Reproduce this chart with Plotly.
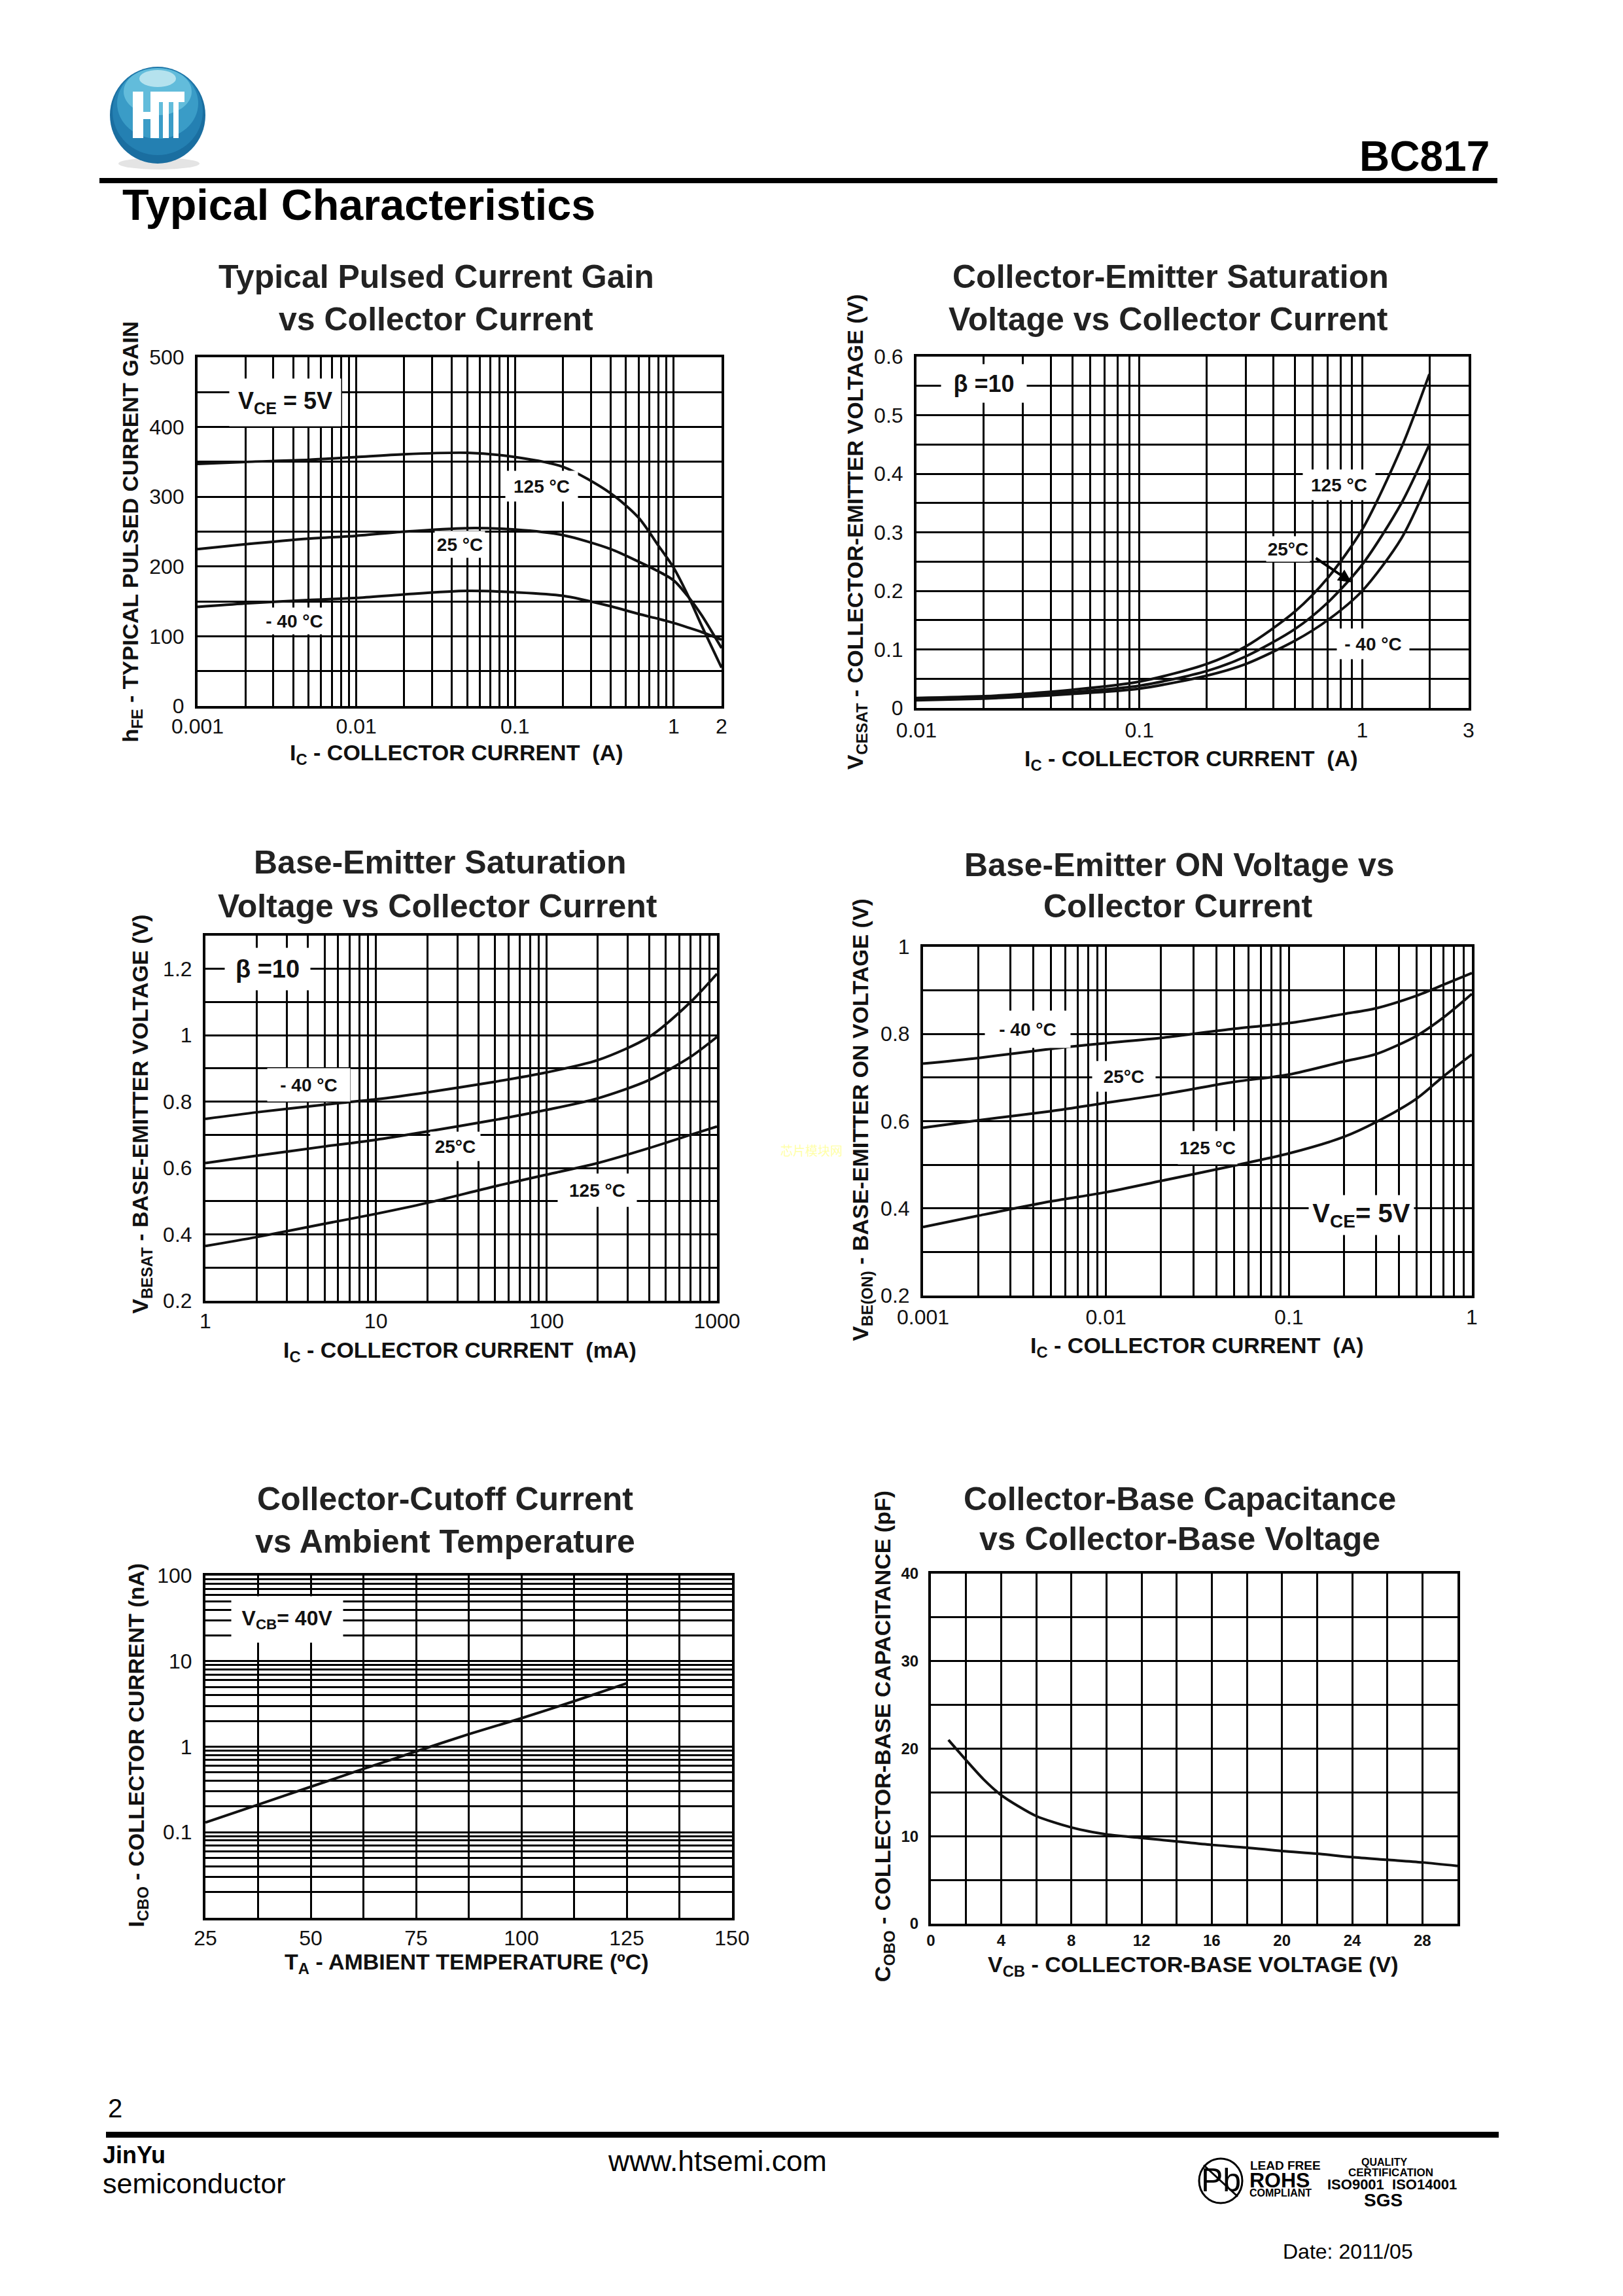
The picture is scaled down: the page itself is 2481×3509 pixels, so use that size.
import plotly.graph_objects as go

W, H = 2481, 3509
FONT = "Liberation Sans"

# ---------- data ----------
gain_ic = [0.001, 0.002, 0.005, 0.01, 0.02, 0.05, 0.1, 0.2, 0.4, 0.6, 0.8, 1, 1.25, 1.5, 2]
gain_125 = [347, 350, 353, 357, 361, 363, 357, 343, 305, 270, 230, 198, 155, 115, 55]
gain_25 = [225, 232, 240, 244, 250, 255, 253, 245, 225, 207, 193, 180, 155, 130, 83]
gain_m40 = [142, 147, 152, 155, 160, 165, 163, 158, 143, 132, 125, 119, 112, 106, 95]

cesat_ic = [0.01, 0.02, 0.03, 0.05, 0.1, 0.2, 0.3, 0.5, 0.7, 1, 1.5, 2]
cesat_125 = [0.017, 0.02, 0.024, 0.031, 0.045, 0.075, 0.105, 0.165, 0.222, 0.305, 0.445, 0.57]
cesat_25 = [0.015, 0.018, 0.021, 0.027, 0.038, 0.063, 0.088, 0.135, 0.18, 0.245, 0.35, 0.45]
cesat_m40 = [0.013, 0.016, 0.019, 0.024, 0.033, 0.055, 0.075, 0.115, 0.15, 0.2, 0.29, 0.39]

besat_ic = [1, 2, 5, 10, 20, 50, 100, 200, 400, 700, 1000]
besat_m40 = [0.748, 0.768, 0.791, 0.807, 0.828, 0.86, 0.888, 0.925, 0.995, 1.1, 1.185]
besat_25 = [0.615, 0.637, 0.665, 0.685, 0.71, 0.745, 0.775, 0.81, 0.865, 0.935, 0.995]
besat_125 = [0.365, 0.392, 0.432, 0.462, 0.495, 0.545, 0.58, 0.615, 0.66, 0.7, 0.725]

beon_ic = [0.001, 0.002, 0.005, 0.01, 0.02, 0.05, 0.1, 0.2, 0.3, 0.5, 0.7, 1]
beon_m40 = [0.732, 0.745, 0.766, 0.779, 0.791, 0.812, 0.825, 0.846, 0.859, 0.888, 0.913, 0.94]
beon_25 = [0.585, 0.602, 0.623, 0.642, 0.661, 0.69, 0.707, 0.737, 0.754, 0.796, 0.838, 0.892]
beon_125 = [0.357, 0.383, 0.416, 0.437, 0.463, 0.498, 0.526, 0.564, 0.598, 0.652, 0.703, 0.753]

cutoff_ta = [25, 37.5, 50, 62.5, 75, 87.5, 100, 112.5, 125]
cutoff_icbo = [0.13, 0.21, 0.34, 0.55, 0.88, 1.4, 2.15, 3.4, 5.5]

cap_vcb = [1, 2, 3, 4, 5, 6, 8, 10, 12, 14, 16, 18, 20, 22, 24, 26, 28, 30]
cap_cobo = [21, 18.7, 16.5, 14.7, 13.4, 12.3, 11, 10.2, 9.8, 9.4, 9.0, 8.7, 8.3, 8, 7.6, 7.3, 7, 6.6]


def log_ticks(lo_exp, hi_exp):
    vals = []
    for e in range(lo_exp, hi_exp):
        for m in range(1, 10):
            vals.append(round(m * 10.0 ** e, 8))
    vals.append(round(10.0 ** hi_exp, 8))
    return vals


gain_x_grid = log_ticks(-3, 0)
cesat_x_grid = log_ticks(-2, 0) + [2]
besat_x_grid = log_ticks(0, 3)
beon_x_grid = log_ticks(-3, 0)
cutoff_y_grid = log_ticks(-2, 2)
cutoff_x_grid = [37.5, 62.5, 87.5, 112.5, 137.5]
cap_x_grid = list(range(2, 30, 2))

panels = [
    dict(box=(302, 1103, 546, 1079), xtype="log", xr=(-3, 0.30103), xg=gain_x_grid,
         xt=[0.001, 0.01, 0.1, 1, 2], xl=["0.001", "0.01", "0.1", "1", "2"],
         yr=(0, 500), yg=list(range(0, 501, 50)), yt=list(range(0, 501, 100)),
         yl=["0", "100", "200", "300", "400", "500"], tick=32, xpad=0),
    dict(box=(1401, 2245, 545, 1082), xtype="log", xr=(-2, 0.47712), xg=cesat_x_grid,
         xt=[0.01, 0.1, 1, 3], xl=["0.01", "0.1", "1", "3"],
         yr=(0, 0.6), yg=[round(i * 0.05, 2) for i in range(13)], yt=[0, 0.1, 0.2, 0.3, 0.4, 0.5, 0.6],
         yl=["0", "0.1", "0.2", "0.3", "0.4", "0.5", "0.6"], tick=32, xpad=3),
    dict(box=(314, 1096, 1430, 1988), xtype="log", xr=(0, 3), xg=besat_x_grid,
         xt=[1, 10, 100, 1000], xl=["1", "10", "100", "1000"],
         yr=(0.2, 1.3), yg=[round(0.2 + i * 0.1, 1) for i in range(12)], yt=[0.2, 0.4, 0.6, 0.8, 1.0, 1.2],
         yl=["0.2", "0.4", "0.6", "0.8", "1", "1.2"], tick=32, xpad=0),
    dict(box=(1411, 2250, 1447, 1980), xtype="log", xr=(-3, 0), xg=beon_x_grid,
         xt=[0.001, 0.01, 0.1, 1], xl=["0.001", "0.01", "0.1", "1"],
         yr=(0.2, 1.0), yg=[round(0.2 + i * 0.1, 1) for i in range(9)], yt=[0.2, 0.4, 0.6, 0.8, 1.0],
         yl=["0.2", "0.4", "0.6", "0.8", "1"], tick=32, xpad=2),
    dict(box=(314, 1119, 2408, 2931), xtype="linear", xr=(25, 150), xg=cutoff_x_grid,
         xt=[25, 50, 75, 100, 125, 150], xl=["25", "50", "75", "100", "125", "150"],
         yr=(-2, 2), yg=cutoff_y_grid, ytype="log", yt=[0.1, 1, 10, 100], yl=["0.1", "1", "10", "100"],
         tick=32, xpad=0),
    dict(box=(1423, 2228, 2405, 2940), xtype="linear", xr=(0, 30), xg=cap_x_grid,
         xt=[0, 4, 8, 12, 16, 20, 24, 28], xl=["0", "4", "8", "12", "16", "20", "24", "28"],
         yr=(0, 40), yg=list(range(0, 41, 5)), yt=[0, 10, 20, 30, 40], yl=["0", "10", "20", "30", "40"],
         tick=24, xpad=1),
]

series = [
    (0, gain_ic, [gain_125, gain_25, gain_m40]),
    (1, cesat_ic, [cesat_125, cesat_25, cesat_m40]),
    (2, besat_ic, [besat_m40, besat_25, besat_125]),
    (3, beon_ic, [beon_m40, beon_25, beon_125]),
    (4, cutoff_ta, [cutoff_icbo]),
    (5, cap_vcb, [cap_cobo]),
]

fig = go.Figure()
layout = dict(width=W, height=H, margin=dict(l=0, r=0, t=0, b=0, pad=0, autoexpand=False), paper_bgcolor="white",
              plot_bgcolor="white", showlegend=False, autosize=False)

for i, p in enumerate(panels):
    sfx = "" if i == 0 else str(i + 1)
    x0, x1, y0, y1 = p["box"]
    common = dict(showgrid=True, gridcolor="black", gridwidth=3, showline=True, linecolor="black",
                  linewidth=4, mirror=True, zeroline=False, tickmode="array", ticks="outside", automargin=False,
                  tickcolor="rgba(0,0,0,0)", tickwidth=1,
                  tickfont=dict(family=FONT, size=p["tick"], color="#111111",
                                weight="bold" if i == 5 else "normal"))
    minor = dict(showgrid=True, gridcolor="black", gridwidth=3, ticks="", tickmode="array")
    layout["xaxis" + sfx] = dict(common, domain=[x0 / W, x1 / W], anchor="y" + sfx, type=p["xtype"],
                                 range=list(p["xr"]), tickvals=p["xt"], ticktext=p["xl"], tickangle=0,
                                 ticklen=p["xpad"], minor=dict(minor, tickvals=p["xg"]))
    layout["yaxis" + sfx] = dict(common, domain=[1 - y1 / H, 1 - y0 / H], anchor="x" + sfx,
                                 type=p.get("ytype", "linear"), range=list(p["yr"]), tickvals=p["yt"],
                                 ticktext=p["yl"], ticklen=10, minor=dict(minor, tickvals=p["yg"]))

names = {0: ["125 °C", "25 °C", "-40 °C"], 1: ["125 °C", "25 °C", "-40 °C"], 2: ["-40 °C", "25 °C", "125 °C"],
         3: ["-40 °C", "25 °C", "125 °C"], 4: ["ICBO"], 5: ["Cobo"]}
for idx, xs, ys_list in series:
    sfx = "" if idx == 0 else str(idx + 1)
    for k, ys in enumerate(ys_list):
        fig.add_trace(go.Scatter(x=xs, y=ys, mode="lines", name=names[idx][k], xaxis="x" + sfx, yaxis="y" + sfx,
                                 line=dict(color="#111111", width=4, shape="spline", smoothing=0.8),
                                 hoverinfo="skip"))


def px(x):
    return x / W


def py(y):
    return 1 - y / H


ann = []


def text(x, y, s, size, bold=False, anchor="center", angle=0, color="#111111", bg=None, pad=0, w=None, h=None, family=FONT):
    d = dict(xref="paper", yref="paper", x=px(x), y=py(y), text=s, showarrow=False, xanchor=anchor, yanchor="middle",
             textangle=angle, font=dict(family=family, size=size, color=color, weight="bold" if bold else "normal"),
             borderpad=pad)
    if bg:
        d["bgcolor"] = bg
    if w:
        d["width"] = w
    if h:
        d["height"] = h
    ann.append(d)


T = 2.2375  # reading scale -> page pixels


def t(xt, yt, s, size, **kw):
    text(xt * T, yt * T, s, size, **kw)


# page furniture
t(1018, 107, "BC817", 64, bold=True, anchor="right", color="black")
t(83, 140, "Typical Characteristics", 66.5, bold=True, anchor="left", color="black")

# chart titles
TS = 50
TC = "#222222"
t(298, 189, "Typical Pulsed Current Gain", TS, bold=True, color=TC)
t(298, 218, "vs Collector Current", TS, bold=True, color=TC)
t(800, 189, "Collector-Emitter Saturation", TS, bold=True, color=TC)
t(798, 218, "Voltage vs Collector Current", TS, bold=True, color=TC)
t(301, 589, "Base-Emitter Saturation", TS, bold=True, color=TC)
t(299, 619, "Voltage vs Collector Current", TS, bold=True, color=TC)
t(806, 591, "Base-Emitter ON Voltage vs", TS, bold=True, color=TC)
t(805, 619, "Collector Current", TS, bold=True, color=TC)
t(304, 1024, "Collector-Cutoff Current", TS, bold=True, color=TC)
t(304, 1053, "vs Ambient Temperature", TS, bold=True, color=TC)
t(806, 1024, "Collector-Base Capacitance", TS, bold=True, color=TC)
t(806, 1051, "vs Collector-Base Voltage", TS, bold=True, color=TC)

# axis titles
AS = 34
t(312, 515, "I<sub>C</sub> - COLLECTOR CURRENT  (A)", AS, bold=True)
t(814, 519, "I<sub>C</sub> - COLLECTOR CURRENT  (A)", AS, bold=True)
t(314, 923, "I<sub>C</sub> - COLLECTOR CURRENT  (mA)", AS, bold=True)
t(818, 920, "I<sub>C</sub> - COLLECTOR CURRENT  (A)", AS, bold=True)
t(319, 1341, "T<sub>A</sub> - AMBIENT TEMPERATURE (ºC)", AS, bold=True)
t(815, 1343, "V<sub>CB</sub> - COLLECTOR-BASE VOLTAGE (V)", AS, bold=True)

t(90, 363, "h<sub>FE</sub> - TYPICAL PULSED CURRENT GAIN", AS, bold=True, angle=-90)
t(585, 363, "V<sub>CESAT</sub> - COLLECTOR-EMITTER VOLTAGE (V)", AS, bold=True, angle=-90)
t(97, 761, "V<sub>BESAT</sub> - BASE-EMITTER VOLTAGE (V)", AS, bold=True, angle=-90)
t(589, 765, "V<sub>BE(ON)</sub> - BASE-EMITTER ON VOLTAGE (V)", AS, bold=True, angle=-90)
t(94, 1192, "I<sub>CBO</sub> - COLLECTOR CURRENT (nA)", AS, bold=True, angle=-90)
t(604, 1186, "C<sub>OBO</sub> - COLLECTOR-BASE CAPACITANCE (pF)", AS, bold=True, angle=-90)

# in-plot labels
for xt, yt, s, bw, bh, ls in [
    (195, 275, "V<sub>CE</sub> = 5V", 170, 72, 36), (370, 332, "125 °C", 110, 46, 28), (314, 372, "25 °C", 76, 40, 28),
    (201, 424, "- 40 °C", 110, 40, 28),
    (672, 262, "β =10", 130, 58, 36), (915, 331, "125 °C", 110, 46, 28), (880, 375, "25°C", 66, 38, 28), (938, 440, "- 40 °C", 110, 46, 28),
    (183, 662, "β =10", 130, 64, 38), (211, 741, "- 40 °C", 126, 50, 28), (311, 783, "25°C", 76, 44, 28), (408, 813, "125 °C", 120, 50, 28),
    (702, 703, "- 40 °C", 130, 56, 28), (768, 735, "25°C", 96, 46, 28), (825, 784, "125 °C", 90, 50, 28), (930, 830, "V<sub>CE</sub>= 5V", 160, 60, 40),
    (196, 1106, "V<sub>CB</sub>= 40V", 170, 70, 32),
]:
    t(xt, yt, s, ls, bold=True, bg="white", w=bw, h=bh)

# arrow of the 25°C label
ann.append(dict(xref="paper", yref="paper", axref="pixel", ayref="pixel", x=px(2066), y=py(890),
                ax=-56, ay=-38, text="", showarrow=True, arrowhead=2, arrowsize=1, arrowwidth=4,
                arrowcolor="black"))

# faint page watermark
text(1240, 1757, "芯片模块网", 19, color="#ffffa8", family="Noto Sans CJK SC")

# footer
text(176, 3222, "2", 40, color="black")
text(156, 3293, "JinYu", 36, bold=True, anchor="left", color="black")
text(156, 3337, "semiconductor", 43, anchor="left", color="black")
t(490, 1476, "www.htsemi.com", 44.5, color="black")
t(921, 1538, "Date: 2011/05", 32, color="black")
t(834, 1489, "Pb", 50, color="black")
t(878, 1479, "LEAD FREE", 19, bold=True, color="black")
t(874, 1489, "ROHS", 32, bold=True, color="black")
t(875, 1498, "COMPLIANT", 16, bold=True, color="black")
t(946, 1477, "QUALITY", 16, bold=True, color="black")
t(950, 1484, "CERTIFICATION", 17, bold=True, color="black")
t(951, 1492, "ISO9001  ISO14001", 22, bold=True, color="black")
t(945, 1503, "SGS", 28, bold=True, color="black")

# logo letters sit above the sphere, drawn as shapes
shapes = []


def rect(x0, y0, x1, y1, color, layer="above"):
    shapes.append(dict(type="rect", xref="paper", yref="paper", x0=px(x0), x1=px(x1), y0=py(y0), y1=py(y1),
                       fillcolor=color, line=dict(width=0), layer=layer))


def ell(cx, cy, rx, ry, color, line=None, fill=True):
    shapes.append(dict(type="circle", xref="paper", yref="paper", x0=px(cx - rx), x1=px(cx + rx), y0=py(cy - ry),
                       y1=py(cy + ry), fillcolor=color if fill else "rgba(0,0,0,0)",
                       line=line or dict(width=0), layer="above"))


# rules
rect(152, 272, 2289, 280, "black")
rect(162, 3258, 2291, 3267, "black")
# sphere
ell(243, 250, 62, 9, "#e4e4e4")
ell(241, 176, 73, 74, "#1a6ea0")
ell(241, 170, 69, 67, "#2480b2")
ell(241, 158, 62, 54, "#3a9cc7")
ell(241, 140, 52, 36, "#62bcdb")
ell(241, 120, 28, 13, "#b5e2ee")
# H and T
rect(203, 140, 219, 211, "white")
rect(230, 140, 243, 211, "white")
rect(203, 171, 243, 182, "white")
rect(230, 140, 282, 156, "white")
rect(249, 140, 258, 211, "white")
rect(265, 140, 273, 211, "white")
# Pb mark
ell(1866, 3333, 33, 34, "rgba(0,0,0,0)", line=dict(color="black", width=3), fill=False)
shapes.append(dict(type="line", xref="paper", yref="paper", x0=px(1840), y0=py(3309), x1=px(1892),
                   y1=py(3357), line=dict(color="black", width=3), layer="above"))

layout["annotations"] = ann
layout["shapes"] = shapes
fig.update_layout(**layout)
fig.write_html("out.html", config={"displayModeBar": False}, post_script="document.body.style.margin='0';")
